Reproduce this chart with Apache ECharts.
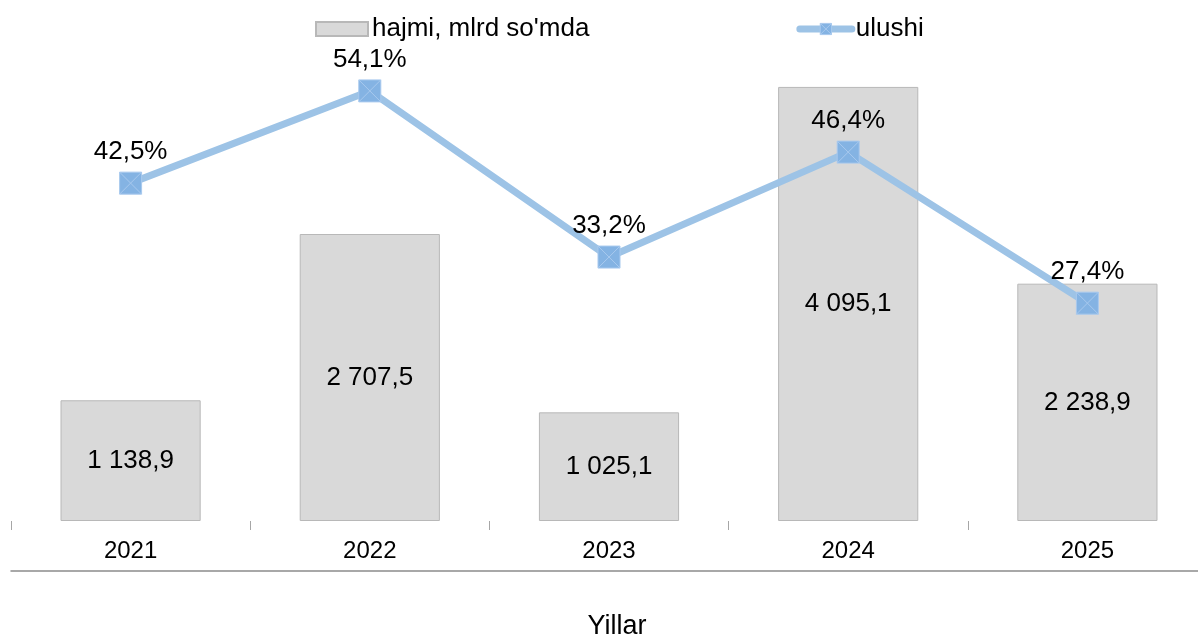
<!DOCTYPE html>
<html>
<head>
<meta charset="utf-8">
<script src="https://cdn.jsdelivr.net/npm/echarts@6/dist/echarts.min.js"></script>
<style>
  html, body { margin: 0; padding: 0; background: #fff; }
  #chart { width: 1198px; height: 638px; }
</style>
</head>
<body>
<div id="chart"></div>
<script>
// ma'lumotlar
var years = ['2021', '2022', '2023', '2024', '2025'];
var volume = [1138.9, 2707.5, 1025.1, 4095.1, 2238.9];
var share = [42.5, 54.1, 33.2, 46.4, 27.4];

function fmtNum(v) {
    var s = v.toFixed(1).split('.');
    var int = s[0].replace(/\B(?=(\d{3})+(?!\d))/g, ' ');
    return int + ',' + s[1];
}

var myChart = echarts.init(document.getElementById('chart'));
var font = 'Liberation Sans, Arial, sans-serif';

var option = {
    animation: false,
    textStyle: { fontFamily: font },
    legend: {
        left: 310,
        top: 11,
        itemWidth: 52,
        itemHeight: 14,
        itemGap: 207,
        textStyle: { fontSize: 26, color: '#000', fontFamily: font, padding: [0, 0, 0, -1] },
        data: [
            { name: "hajmi, mlrd so'mda", icon: 'rect' },
            {
                name: 'ulushi',
                lineStyle: { width: 7, color: '#9dc3e6', cap: 'round' },
                itemStyle: { color: '#84b3e3', borderColor: '#a8c9ee', borderWidth: 1 }
            }
        ]
    },
    grid: {
        left: 11,
        right: -9,
        top: 44,
        bottom: 117,
        outerBoundsMode: 'none'
    },
    xAxis: [
        {
            type: 'category',
            data: years,
            axisLine: { show: false },
            axisTick: { show: true, length: 9, lineStyle: { color: '#a6a6a6' } },
            axisLabel: { fontSize: 24, color: '#000', margin: 18, fontFamily: font },
            name: 'Yillar',
            nameLocation: 'middle',
            nameGap: 92,
            nameTextStyle: { fontSize: 27, color: '#000', fontFamily: font, padding: [0, 0, 0, 16] }
        },
        {
            type: 'category',
            data: years,
            position: 'bottom',
            offset: 50,
            axisLine: { show: true, onZero: false, lineStyle: { color: '#8c8c8c', width: 1.5 } },
            axisTick: { show: false },
            axisLabel: { show: false }
        }
    ],
    yAxis: [
        { type: 'value', min: 0, max: 4500, show: false, splitLine: { show: false } },
        { type: 'value', min: 0, max: 60, show: false, splitLine: { show: false } }
    ],
    series: [
        {
            name: "hajmi, mlrd so'mda",
            type: 'bar',
            data: volume,
            barWidth: '58.6%',
            itemStyle: { color: '#d9d9d9', borderColor: '#b8b8b8', borderWidth: 1 },
            label: {
                show: true,
                position: 'inside',
                fontSize: 26,
                color: '#000',
                fontFamily: font,
                formatter: function (p) { return fmtNum(p.value); }
            }
        },
        {
            name: 'ulushi',
            type: 'line',
            yAxisIndex: 1,
            data: share,
            symbol: 'path://M0,0H10V10H0Z M0,0L10,10 M10,0L0,10',
            symbolSize: 22,
            lineStyle: { color: '#9dc3e6', width: 7 },
            itemStyle: { color: '#84b3e3', borderColor: '#a8c9ee', borderWidth: 1 },
            label: {
                show: true,
                position: 'top',
                distance: 7,
                fontSize: 26,
                color: '#000',
                fontFamily: font,
                formatter: function (p) { return String(p.value).replace('.', ',') + '%'; }
            },
            z: 5
        }
    ]
};

myChart.setOption(option);
window.addEventListener('resize', function () {
    myChart.resize();
});
</script>
</body>
</html>
